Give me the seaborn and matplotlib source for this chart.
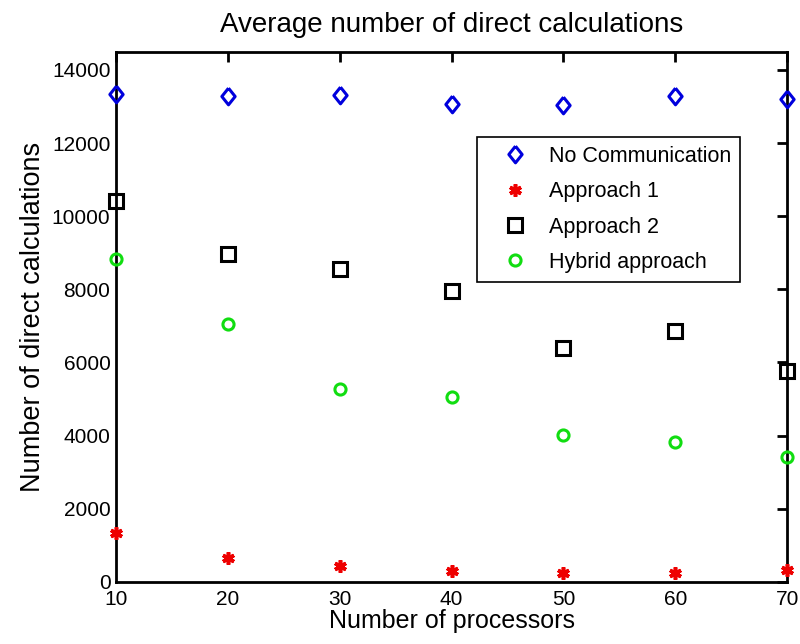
import matplotlib
matplotlib.use("Agg")
import matplotlib.pyplot as plt
import seaborn as sns
import pandas as pd

# Number of processors used in each run
processors = [10, 20, 30, 40, 50, 60, 70]

# Average number of direct calculations per approach
no_communication = [13340, 13290, 13320, 13065, 13035, 13290, 13210]
approach_1 = [1325, 655, 430, 300, 235, 235, 320]
approach_2 = [10420, 8965, 8550, 7955, 6390, 6860, 5765]
hybrid = [8820, 7050, 5265, 5060, 4015, 3825, 3420]

series_names = ["No Communication", "Approach 1", "Approach 2", "Hybrid approach"]
x_ticks = [10, 20, 30, 40, 50, 60, 70]
y_ticks = [0, 2000, 4000, 6000, 8000, 10000, 12000, 14000]

sns.set_style("white")
plt.rcParams["font.family"] = ["Liberation Sans", "DejaVu Sans"]
plt.rcParams["text.color"] = "black"
plt.rcParams["axes.labelcolor"] = "black"

fig = plt.figure(figsize=(8.0, 6.44), dpi=100)
ax = fig.add_axes([0.145, 0.0967, 0.839, 0.823])

df = pd.DataFrame({
    "processors": processors * 4,
    "calcs": no_communication + approach_1 + approach_2 + hybrid,
    "series": sum([[n] * len(processors) for n in series_names], []),
})

# open diamond, a little taller than wide
diamond = [(0, 1), (0.8, 0), (0, -1), (-0.8, 0), (0, 1)]

styles = {
    "No Communication": dict(color="#0000dd", marker=diamond, markersize=12, mfc="none", mew=2.2),
    "Approach 1": dict(color="#ee0000", marker=(6, 2, 0), markersize=9, mew=2.6),
    "Approach 2": dict(color="black", marker="s", markersize=9.5, mfc="none", mew=2.2),
    "Hybrid approach": dict(color="#11dd11", marker="o", markersize=8, mfc="none", mew=2.2),
}

for name in series_names:
    sub = df[df["series"] == name]
    st = styles[name]
    sns.lineplot(
        data=sub, x="processors", y="calcs", ax=ax, estimator=None,
        linestyle="none", label=name, clip_on=False, zorder=5,
        color=st["color"], marker=st["marker"], markersize=st["markersize"],
        markerfacecolor=st.get("mfc", st["color"]), markeredgecolor=st["color"],
        markeredgewidth=st["mew"],
    )

ax.set_xlim(10, 70)
ax.set_ylim(0, 14500)
ax.set_xticks(x_ticks)
ax.set_yticks(y_ticks)
ax.set_xticklabels([str(v) for v in x_ticks])
ax.set_yticklabels([str(v) for v in y_ticks])

for sp in ax.spines.values():
    sp.set_visible(True)
    sp.set_color("black")
    sp.set_linewidth(2)

ax.tick_params(axis="both", direction="in", length=7, width=2, top=True, right=True,
               labelsize=15, colors="black", pad=4)
ax.tick_params(axis="x", pad=6)

ax.set_title("Average number of direct calculations", fontsize=20, pad=14, color="black")
ax.set_xlabel("Number of processors", fontsize=18, labelpad=0)
ax.set_ylabel("Number of direct calculations", fontsize=19.5, labelpad=4)

leg = ax.legend(loc="upper left", bbox_to_anchor=(0.538, 0.839), borderaxespad=0,
                fontsize=15.5, frameon=True, fancybox=False, framealpha=1,
                edgecolor="black", handlelength=2.75, handletextpad=0.2,
                borderpad=0.4, labelspacing=0.67)
leg.get_frame().set_linewidth(1.2)

fig.savefig("out.png", dpi=100)
